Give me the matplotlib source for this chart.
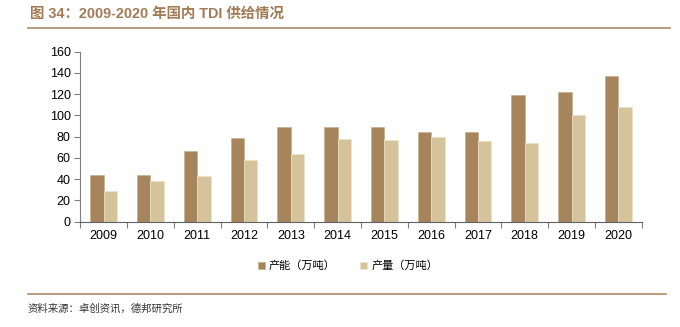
import matplotlib
matplotlib.use("Agg")
import matplotlib.pyplot as plt
import numpy as np
from matplotlib.lines import Line2D

plt.rcParams['font.family'] = ['Liberation Sans', 'Noto Sans CJK SC', 'DejaVu Sans']

years = ['2009', '2010', '2011', '2012', '2013', '2014', '2015', '2016', '2017', '2018', '2019', '2020']
capacity = [44, 44, 67, 79, 89, 89, 89, 84, 84, 119, 122, 137]
production = [29, 38, 43, 58, 64, 78, 76.5, 80, 76, 74, 100, 108]
yticks = [0, 20, 40, 60, 80, 100, 120, 140, 160]

c_cap = '#A6845C'
c_prod = '#D5C49B'
title_color = '#A27B55'

fig = plt.figure(figsize=(6.8, 3.27), dpi=100)
ax = fig.add_axes([80.3/680, 1 - 221.7/327, (641.7-80.3)/680, (221.7-51.7)/327])

x = np.arange(len(years))
w = 0.285
ax.bar(x - w/2, capacity, w, color=c_cap, edgecolor='#C9B08E', linewidth=0.5, label='产能（万吨）')
ax.bar(x + w/2, production, w, color=c_prod, edgecolor='#EDE3C8', linewidth=0.5, label='产量（万吨）')

ax.set_xlim(-0.5, len(years) - 0.5)
ax.set_ylim(0, 160)
ax.set_yticks(yticks)
ax.set_yticklabels([str(v) for v in yticks], fontsize=9)
ax.set_xticks(x)
ax.set_xticklabels(years, fontsize=9)
ax.tick_params(axis='x', length=0, pad=6)
ax.set_xticks(np.arange(-0.5, len(years) + 0.5, 1), minor=True)
ax.tick_params(axis='x', which='minor', length=4, color='#808080', width=0.8, direction='out')
ax.tick_params(axis='y', length=4, color='#808080', width=0.8, direction='out', pad=3)
for s in ['top', 'right']:
    ax.spines[s].set_visible(False)
ax.spines['left'].set_color('#808080')
ax.spines['bottom'].set_color('#606060')
ax.spines['left'].set_linewidth(0.8)
ax.spines['bottom'].set_linewidth(0.8)

handles, labels = ax.get_legend_handles_labels()
leg = fig.legend(handles, labels, loc='center', bbox_to_anchor=(348/680, 1 - 266/327), ncol=2,
                 frameon=False, handlelength=0.6, handleheight=0.6, columnspacing=2.2,
                 handletextpad=0.4, prop={'family': ['Noto Sans CJK SC'], 'size': 8})

fig.text(30/680, 1 - 14/327, '图 34：2009-2020 年国内 TDI 供给情况', fontsize=10.4, fontweight='bold',
         color=title_color, va='center', ha='left', family=['Liberation Sans', 'Noto Sans CJK SC'])
fig.add_artist(Line2D([28/680, 670/680], [1 - 27.7/327, 1 - 27.7/327], color='#B08A66', linewidth=1.2))
fig.add_artist(Line2D([28/680, 666/680], [1 - 294/327, 1 - 294/327], color='#B08A66', linewidth=1.2))
fig.text(28/680, 1 - 309/327, '资料来源：卓创资讯，德邦研究所', fontsize=7.5, color='#333333', va='center', ha='left',
         family=['Noto Sans CJK SC'])

fig.savefig('out.png', dpi=100)
